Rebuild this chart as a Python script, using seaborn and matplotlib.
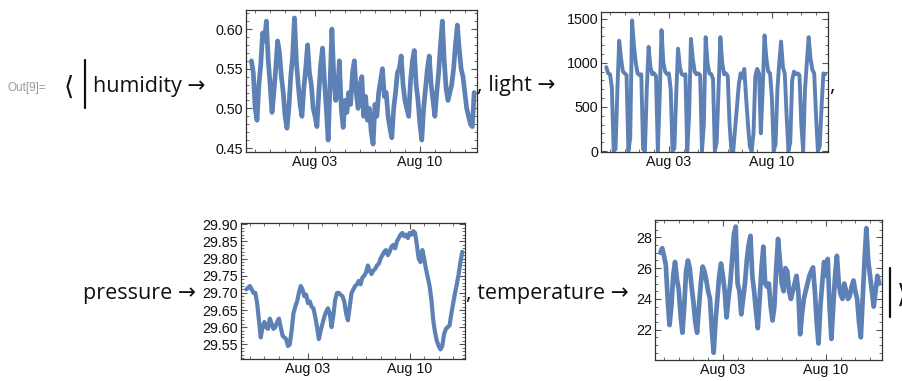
import pandas as pd
import seaborn as sns
import matplotlib.pyplot as plt
import matplotlib.dates as mdates
from matplotlib.lines import Line2D
from matplotlib.ticker import MultipleLocator, FormatStrFormatter

# readings every 3 hours, starting Jul 29 18:00
START = "2016-07-29 18:00"

humidity = [
    0.56, 0.545, 0.50, 0.485, 0.53, 0.555, 0.595, 0.585, 0.61, 0.56,
    0.53, 0.495, 0.52, 0.55, 0.585, 0.57, 0.54, 0.52, 0.49, 0.475,
    0.50, 0.54, 0.565, 0.614, 0.56, 0.53, 0.505, 0.49, 0.525, 0.55,
    0.58, 0.545, 0.53, 0.50, 0.49, 0.477, 0.52, 0.555, 0.576, 0.535,
    0.50, 0.46, 0.53, 0.60, 0.54, 0.51, 0.52, 0.56, 0.50, 0.476,
    0.51, 0.495, 0.52, 0.505, 0.545, 0.56, 0.52, 0.50, 0.53, 0.54,
    0.49, 0.515, 0.485, 0.50, 0.47, 0.455, 0.505, 0.49, 0.52, 0.535,
    0.55, 0.515, 0.52, 0.49, 0.475, 0.463, 0.50, 0.52, 0.545, 0.55,
    0.566, 0.53, 0.51, 0.50, 0.49, 0.535, 0.56, 0.573, 0.53, 0.51,
    0.48, 0.46, 0.50, 0.525, 0.55, 0.566, 0.53, 0.51, 0.49, 0.52,
    0.545, 0.58, 0.61, 0.56, 0.525, 0.51, 0.52, 0.53, 0.55, 0.58,
    0.605, 0.575, 0.55, 0.54, 0.52, 0.50, 0.49, 0.48, 0.477, 0.52,
]

light = [
    950, 880, 870, 720, 0, 20, 680, 1250, 1050, 900,
    880, 860, 0, 150, 1480, 1200, 1000, 880, 860, 870,
    20, 0, 700, 1180, 950, 870, 880, 850, 0, 600,
    1370, 1000, 900, 870, 880, 700, 0, 30, 650, 1160,
    950, 870, 860, 870, 0, 400, 1270, 1050, 900, 870,
    880, 860, 0, 300, 1290, 1000, 880, 870, 820, 0,
    100, 700, 1290, 1000, 870, 880, 850, 300, 0, 0,
    250, 500, 750, 880, 830, 930, 600, 300, 50, 0,
    200, 850, 930, 880, 200, 700, 1310, 1050, 900, 880,
    600, 0, 80, 700, 1000, 1240, 950, 880, 400, 0,
    100, 800, 900, 870, 880, 860, 300, 0, 700, 1000,
    1290, 1050, 920, 880, 400, 0, 50, 500, 880, 870,
]

pressure = [
    29.71, 29.715, 29.72, 29.71, 29.70, 29.70, 29.67, 29.62, 29.57, 29.60,
    29.615, 29.60, 29.595, 29.625, 29.61, 29.595, 29.60, 29.615, 29.625, 29.60,
    29.575, 29.57, 29.565, 29.545, 29.55, 29.59, 29.64, 29.66, 29.675, 29.70,
    29.72, 29.71, 29.69, 29.695, 29.67, 29.675, 29.66, 29.655, 29.63, 29.60,
    29.565, 29.59, 29.61, 29.63, 29.645, 29.655, 29.64, 29.60, 29.635, 29.68,
    29.70, 29.70, 29.695, 29.69, 29.675, 29.64, 29.62, 29.66, 29.70, 29.71,
    29.72, 29.725, 29.735, 29.725, 29.745, 29.75, 29.76, 29.78, 29.765, 29.755,
    29.765, 29.77, 29.78, 29.785, 29.80, 29.81, 29.82, 29.825, 29.81, 29.82,
    29.835, 29.84, 29.83, 29.85, 29.86, 29.87, 29.875, 29.865, 29.87, 29.86,
    29.875, 29.87, 29.88, 29.875, 29.84, 29.80, 29.79, 29.825, 29.80, 29.77,
    29.745, 29.72, 29.68, 29.62, 29.585, 29.56, 29.545, 29.535, 29.545, 29.58,
    29.595, 29.60, 29.605, 29.64, 29.67, 29.70, 29.725, 29.755, 29.79, 29.82,
]

temperature = [
    27.0, 27.3, 26.8, 26.2, 24.0, 22.3, 23.5, 25.5, 26.4, 25.3,
    24.6, 23.0, 21.8, 23.5, 25.8, 26.5, 26.0, 24.8, 23.8, 22.5,
    21.8, 23.5, 25.0, 26.1, 25.8, 25.2, 24.5, 24.0, 22.0, 20.5,
    22.5, 24.0, 25.5, 26.3, 25.5, 24.5, 22.8, 24.0, 25.0, 26.5,
    28.2, 28.7, 25.0, 24.5, 23.0, 24.0, 25.0, 26.5, 27.5, 28.1,
    25.5, 24.5, 23.2, 22.1, 24.0, 26.0, 27.4, 25.0, 24.8, 25.0,
    23.5, 22.6, 23.5, 26.0, 27.9, 26.5, 25.0, 24.5, 26.0, 25.8,
    24.5, 24.0, 24.5, 25.0, 25.5, 24.5, 21.7, 23.0, 24.0, 24.5,
    25.0, 25.5, 25.8, 26.05, 24.5, 22.5, 21.1, 23.5, 25.0, 26.4,
    25.5, 26.6, 23.5, 21.4, 23.5, 25.5, 26.8, 25.0, 24.3, 24.0,
    25.0, 24.5, 24.0, 24.2, 24.8, 25.2, 24.5, 24.0, 22.5, 21.5,
    24.0, 26.5, 28.6, 26.5, 25.5, 24.5, 23.5, 24.5, 25.5, 25.0,
]

LINE = "#5E81B5"
W, H = 902, 381

sns.set_theme(style="ticks")
plt.rcParams["font.family"] = ["Liberation Sans", "DejaVu Sans"]

fig = plt.figure(figsize=(W / 100, H / 100), dpi=100)
fig.patch.set_facecolor("white")

x_lo = pd.Timestamp("2016-07-29 09:20")
x_hi = pd.Timestamp("2016-08-13 19:30")


def panel(box, values, ylim, major, minor, fmt, lw):
    left, top, right, bottom = box
    ax = fig.add_axes([left / W, 1 - bottom / H, (right - left) / W, (bottom - top) / H])
    df = pd.DataFrame({
        "time": pd.date_range(START, periods=len(values), freq="3h"),
        "value": values,
    })
    sns.lineplot(data=df, x="time", y="value", ax=ax, color=LINE, linewidth=lw)
    ax.set_xlim(x_lo, x_hi)
    ax.set_ylim(*ylim)
    ax.set_xlabel("")
    ax.set_ylabel("")
    ax.xaxis.set_major_locator(mdates.DayLocator(bymonthday=[3, 10]))
    ax.xaxis.set_minor_locator(mdates.DayLocator())
    ax.xaxis.set_major_formatter(mdates.DateFormatter("%b %d"))
    ax.yaxis.set_major_locator(MultipleLocator(major))
    ax.yaxis.set_minor_locator(MultipleLocator(minor))
    ax.yaxis.set_major_formatter(FormatStrFormatter(fmt))
    ax.tick_params(which="both", direction="in", top=True, right=True,
                   color="#555555", labelsize=10.3, labelcolor="#111111", pad=2)
    ax.tick_params(which="major", length=4, width=0.8)
    ax.tick_params(which="minor", length=2.5, width=0.6)
    for s in ax.spines.values():
        s.set_color("#333333")
        s.set_linewidth(0.9)
    return ax


panel((246, 10, 477, 152), humidity, (0.445, 0.624), 0.05, 0.01, "%.2f", 3.4)
panel((601, 12, 828, 152), light, (-11, 1575), 500, 100, "%d", 2.8)
panel((241, 223, 465, 359), pressure, (29.507, 29.904), 0.05, 0.01, "%.2f", 3.0)
panel((655, 220, 882, 360), temperature, (20.03, 29.13), 2, 0.5, "%d", 3.4)

label_font = ["Open Sans", "DejaVu Sans"]


def label(x, y, s, size=15.5, **kw):
    fig.text(x / W, 1 - y / H, s, fontsize=size, family=label_font,
             va="baseline", ha="left", color="#111111", **kw)


def bar(x, y0, y1):
    fig.add_artist(Line2D([x / W, x / W], [1 - y0 / H, 1 - y1 / H],
                          color="#111111", linewidth=1.6))


fig.text(7 / W, 1 - 91 / H, "Out[9]=", fontsize=8.5, color="#999999",
         family=["Liberation Sans"], va="baseline")
label(64, 95, "\u27e8", size=19)
bar(85, 60, 108)
label(93, 92, "humidity \u2192")
label(477, 91, ", light \u2192")
label(829, 91, ",")
label(83, 299, "pressure \u2192")
label(466, 299, ", temperature \u2192")
bar(890, 268, 317)
label(897, 303, "\u27e9", size=19)

fig.savefig("out.png", dpi=100)
